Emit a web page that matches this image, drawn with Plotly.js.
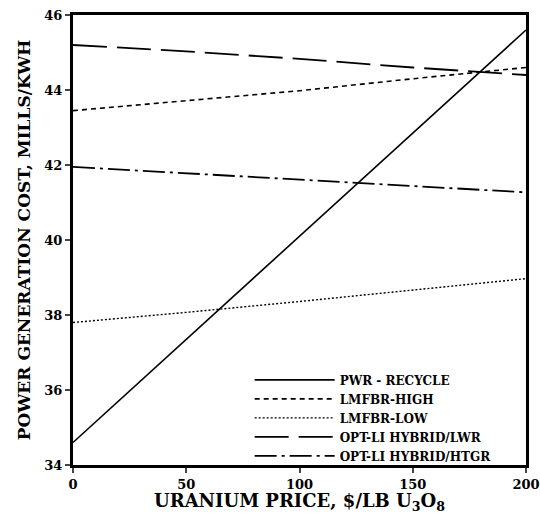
<!DOCTYPE html>
<html>
<head>
<meta charset="utf-8">
<script src="https://cdn.plot.ly/plotly-3.0.1.min.js"></script>
<style>html,body{margin:0;padding:0;background:#fff;}#chart{width:540px;height:514px;}</style>
</head>
<body>
<div id="chart"></div>
<script>
// Uranium price, $/lb U3O8
const uraniumPrice = [0, 50, 100, 150, 200];
// Power generation cost, mills/kWh
const pwrRecycle   = [34.6, 37.35, 40.1, 42.85, 45.6];
const lmfbrHigh    = [43.45, 43.72, 43.98, 44.3, 44.6];
const lmfbrLow     = [37.8, 38.07, 38.36, 38.66, 38.97];
const hybridLwr    = [45.2, 45.03, 44.83, 44.6, 44.4];
const hybridHtgr   = [41.95, 41.78, 41.62, 41.45, 41.27];
const seriesNames  = ["PWR - RECYCLE", "LMFBR-HIGH", "LMFBR-LOW", "OPT-LI HYBRID/LWR", "OPT-LI HYBRID/HTGR"];
const xTicks = [0, 50, 100, 150, 200];
const yTicks = [34, 36, 38, 40, 42, 44, 46];

const serif = "DejaVu Serif, serif";
const dashes = ["solid", "5px,4px", "2px,2px", "34px,10px", "22px,5px,3px,5px"];
const widths = [1.6, 1.6, 1.4, 1.8, 1.8];
const ys = [pwrRecycle, lmfbrHigh, lmfbrLow, hybridLwr, hybridHtgr];

const traces = ys.map((y, i) => ({
  x: uraniumPrice, y: y, name: seriesNames[i], type: "scatter", mode: "lines",
  line: {color: "#000", width: widths[i], dash: dashes[i]}
}));

const layout = {
  width: 540, height: 514,
  margin: {l: 73, r: 14, t: 15, b: 49},
  paper_bgcolor: "#fff", plot_bgcolor: "#fff",
  font: {family: serif, color: "#000", weight: "bold"},
  xaxis: {
    range: [0, 200], tickvals: xTicks, ticks: "outside", ticklen: 5, tickwidth: 2,
    showline: true, linewidth: 3, linecolor: "#000", mirror: true, showgrid: false, zeroline: false,
    ticklabeloverflow: "allow",
    tickfont: {family: serif, size: 13, weight: "bold"},
    title: {text: "URANIUM PRICE, $/LB U<sub>3</sub>O<sub>8</sub>", font: {family: serif, size: 18, weight: "bold"}, standoff: 3}
  },
  yaxis: {
    range: [34, 46], tickvals: yTicks, ticks: "outside", ticklen: 5, tickwidth: 2,
    showline: true, linewidth: 3, linecolor: "#000", mirror: true, showgrid: false, zeroline: false,
    tickfont: {family: serif, size: 13, weight: "bold"},
    title: {text: "POWER GENERATION COST, MILLS/KWH", font: {family: serif, size: 17, weight: "bold"}, standoff: 10}
  },
  legend: {
    x: 0.39, y: -0.012, xanchor: "left", yanchor: "bottom", bgcolor: "rgba(0,0,0,0)",
    borderwidth: 0, itemwidth: 80, tracegroupgap: 0,
    font: {family: serif, size: 12, weight: "bold"}
  },
  showlegend: true
};

Plotly.newPlot("chart", traces, layout, {displayModeBar: false, staticPlot: true});
</script>
</body>
</html>
